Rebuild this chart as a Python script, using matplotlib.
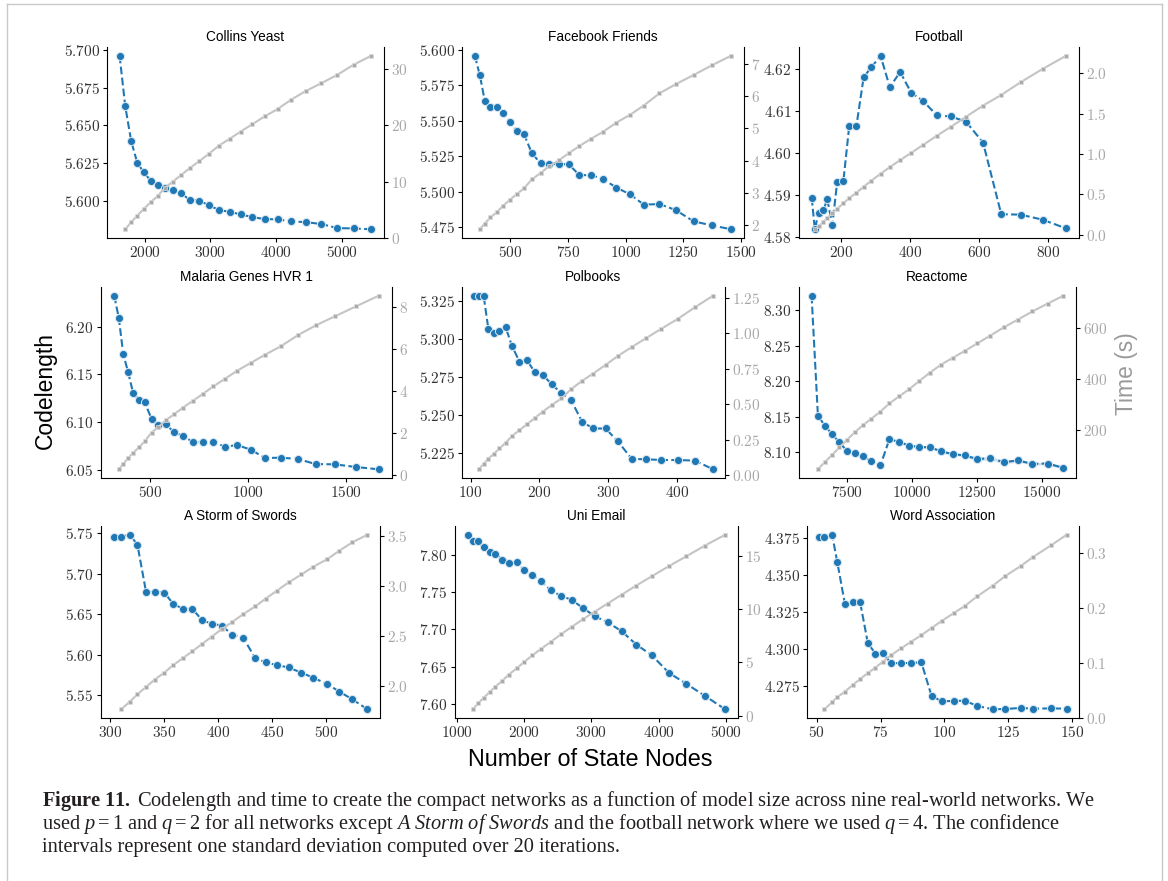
import matplotlib
matplotlib.use("Agg")
import matplotlib.pyplot as plt
import numpy as np
from matplotlib.ticker import MultipleLocator
from matplotlib.lines import Line2D

# ---- data ----
names = ["Collins Yeast", "Facebook Friends", "Football",
         "Malaria Genes HVR 1", "Polbooks", "Reactome",
         "A Storm of Swords", "Uni Email", "Word Association"]

collins_nodes = [1620, 1706, 1797, 1888, 1985, 2091, 2198, 2309, 2431, 2558, 2689, 2826, 2973,
                 3130, 3292, 3460, 3637, 3825, 4022, 4230, 4448, 4686, 4930, 5178, 5447]
collins_cl = [5.6963, 5.6627, 5.6394, 5.6253, 5.6189, 5.6134, 5.6107, 5.6087, 5.6070, 5.6048,
              5.6004, 5.6001, 5.5971, 5.5938, 5.5926, 5.5909, 5.5891, 5.5878, 5.5876, 5.5862,
              5.5858, 5.5845, 5.5818, 5.5816, 5.5810]
collins_time = [1.5, 2.8, 3.9, 5.1, 6.3, 7.4, 8.9, 10.0, 11.2, 12.4, 13.6, 14.9, 16.4, 17.6,
                18.9, 20.2, 21.6, 22.9, 24.6, 26.1, 27.5, 29.0, 30.8, 32.4]

facebook_nodes = [346, 368, 389, 414, 441, 467, 497, 527, 559, 593, 631, 668, 711, 754, 800,
                  851, 904, 960, 1019, 1079, 1147, 1217, 1295, 1374, 1458]
facebook_cl = [5.5960, 5.5821, 5.5643, 5.5596, 5.5596, 5.5558, 5.5495, 5.5431, 5.5408, 5.5274,
               5.5201, 5.5196, 5.5196, 5.5194, 5.5117, 5.5119, 5.5088, 5.5030, 5.4983, 5.4910,
               5.4914, 5.4872, 5.4792, 5.4764, 5.4736]
facebook_time = [1.86, 2.04, 2.23, 2.39, 2.58, 2.77, 2.95, 3.13, 3.41, 3.61, 3.82, 4.01, 4.23,
                 4.45, 4.68, 4.90, 5.18, 5.42, 5.71, 6.09, 6.37, 6.66, 6.96, 7.26]

football_nodes = [114, 123, 134, 148, 159, 174, 188, 206, 223, 244, 265, 287, 314, 341, 371,
                  403, 438, 477, 518, 562, 612, 665, 721, 785, 854]
football_cl = [4.5893, 4.5818, 4.5858, 4.5863, 4.5890, 4.5829, 4.5931, 4.5933, 4.6064, 4.6065,
               4.6181, 4.6204, 4.6232, 4.6157, 4.6193, 4.6144, 4.6124, 4.6090, 4.6087, 4.6075,
               4.6025, 4.5854, 4.5853, 4.5841, 4.5820]
football_time = [0.066, 0.103, 0.157, 0.206, 0.268, 0.322, 0.388, 0.454, 0.519, 0.594, 0.668,
                 0.755, 0.837, 0.924, 1.014, 1.113, 1.225, 1.336, 1.460, 1.600, 1.732, 1.889,
                 2.054, 2.219]

malaria_nodes = [319, 342, 365, 389, 415, 444, 474, 509, 544, 582, 624, 669, 718, 769, 824,
                 883, 946, 1015, 1088, 1168, 1255, 1345, 1444, 1551, 1667]
malaria_cl = [6.2324, 6.2094, 6.1714, 6.1529, 6.1309, 6.1236, 6.1208, 6.1037, 6.0967, 6.0978,
              6.0894, 6.0856, 6.0796, 6.0793, 6.0793, 6.0744, 6.0761, 6.0712, 6.0625, 6.0629,
              6.0615, 6.0562, 6.0559, 6.0531, 6.0507]
malaria_time = [0.28, 0.54, 0.80, 1.06, 1.32, 1.61, 2.03, 2.29, 2.62, 2.90, 3.22, 3.53, 3.86,
                4.23, 4.59, 4.98, 5.35, 5.74, 6.14, 6.67, 7.13, 7.57, 8.04, 8.55]

polbooks_nodes = [105, 112, 119, 126, 134, 142, 151, 160, 171, 182, 193, 205, 218, 232, 246,
                  262, 278, 296, 314, 334, 355, 377, 401, 426, 452]
polbooks_cl = [5.3285, 5.3285, 5.3285, 5.3064, 5.3040, 5.3051, 5.3077, 5.2957, 5.2852, 5.2861,
               5.2785, 5.2765, 5.2702, 5.2645, 5.2599, 5.2457, 5.2413, 5.2413, 5.2328, 5.2213,
               5.2211, 5.2206, 5.2206, 5.2202, 5.2145]
polbooks_time = [0.042, 0.079, 0.117, 0.152, 0.189, 0.229, 0.276, 0.318, 0.360, 0.402, 0.449,
                 0.495, 0.542, 0.607, 0.666, 0.717, 0.778, 0.841, 0.904, 0.967, 1.033, 1.103,
                 1.185, 1.266]

reactome_nodes = [6154, 6397, 6667, 6936, 7218, 7513, 7808, 8115, 8449, 8795, 9141, 9513, 9897,
                  10295, 10692, 11128, 11564, 12038, 12513, 13013, 13526, 14077, 14628, 15218, 15821]
reactome_cl = [8.3205, 8.1510, 8.1371, 8.1252, 8.1138, 8.1014, 8.0981, 8.0938, 8.0876, 8.0810,
               8.1181, 8.1143, 8.1090, 8.1071, 8.1067, 8.1010, 8.0971, 8.0952, 8.0900, 8.0914,
               8.0857, 8.0881, 8.0833, 8.0838, 8.0776]
reactome_std = [0, 0, 0, 0, 0, 0, 0, 0, 0, 0, 0.001, 0.002, 0.002, 0.002, 0.002, 0.002, 0.002,
                0.002, 0.003, 0.002, 0.003, 0.002, 0.002, 0.002, 0.002]
reactome_time = [45, 74, 101, 131, 161, 190, 218, 244, 272, 304, 332, 360, 393, 425, 457, 483,
                 511, 540, 571, 603, 634, 666, 697, 728]

storm_nodes = [303, 310, 318, 325, 333, 341, 350, 358, 367, 376, 385, 394, 403, 413, 423, 434,
               444, 454, 465, 477, 488, 501, 512, 524, 538]
storm_cl = [5.7459, 5.7459, 5.7483, 5.7359, 5.6774, 5.6774, 5.6766, 5.6629, 5.6566, 5.6562,
            5.6425, 5.6380, 5.6359, 5.6243, 5.6210, 5.5956, 5.5902, 5.5869, 5.5840, 5.5774,
            5.5712, 5.5633, 5.5541, 5.5446, 5.5322]
storm_time = [1.766, 1.843, 1.916, 1.990, 2.064, 2.134, 2.208, 2.278, 2.348, 2.422, 2.496,
              2.569, 2.643, 2.720, 2.797, 2.877, 2.954, 3.038, 3.119, 3.196, 3.273, 3.356,
              3.440, 3.517]

email_nodes = [1163, 1237, 1316, 1400, 1489, 1573, 1672, 1770, 1889, 1998, 2121, 2254, 2393,
               2546, 2709, 2877, 3054, 3242, 3454, 3667, 3899, 4151, 4412, 4689, 4990]
email_cl = [7.8270, 7.8189, 7.8180, 7.8104, 7.8041, 7.8018, 7.7932, 7.7887, 7.7905, 7.7797,
            7.7730, 7.7644, 7.7527, 7.7450, 7.7396, 7.7284, 7.7176, 7.7095, 7.6973, 7.6797,
            7.6653, 7.6419, 7.6270, 7.6108, 7.5928]
email_time = [0.62, 1.18, 1.71, 2.24, 2.74, 3.27, 3.86, 4.45, 5.04, 5.66, 6.29, 6.91, 7.63,
              8.34, 9.06, 9.77, 10.52, 11.36, 12.20, 13.07, 14.01, 14.94, 15.94, 16.96]

word_nodes = [51, 53, 56, 58, 61, 64, 67, 70, 73, 76, 79, 83, 87, 91, 95, 99, 104, 108, 113,
              119, 124, 130, 135, 142, 148]
word_cl = [4.3754, 4.3754, 4.3770, 4.3588, 4.3305, 4.3314, 4.3314, 4.3040, 4.2968, 4.2975,
           4.2903, 4.2905, 4.2905, 4.2910, 4.2683, 4.2647, 4.2649, 4.2651, 4.2615, 4.2593,
           4.2595, 4.2602, 4.2597, 4.2599, 4.2597]
word_time = [0.015, 0.028, 0.037, 0.047, 0.059, 0.070, 0.081, 0.091, 0.102, 0.113, 0.126,
             0.138, 0.150, 0.163, 0.176, 0.191, 0.203, 0.221, 0.240, 0.258, 0.276, 0.293,
             0.314, 0.333]

caption_lines = [
    r"$\mathbf{Figure\ 11.}\;$Codelength and time to create the compact networks as a function of model size across nine real-world networks. We",
    r"used $p = 1$ and $q = 2$ for all networks except $\mathit{A\ Storm\ of\ Swords}$ and the football network where we used $q = 4$. The confidence",
    "intervals represent one standard deviation computed over 20 iterations.",
]

# ---- style ----
plt.rcParams["font.family"] = "cmr10"
plt.rcParams["axes.formatter.use_mathtext"] = True
plt.rcParams["mathtext.fontset"] = "custom"
plt.rcParams["mathtext.rm"] = "Liberation Serif"
plt.rcParams["mathtext.it"] = "Liberation Serif:italic"
plt.rcParams["mathtext.bf"] = "Liberation Serif:bold"

W, H = 1168, 881
fig = plt.figure(figsize=(W / 100, H / 100), dpi=100)

# axes boxes in pixels: left, right, top, bottom
boxes = [(107, 384, 47, 238), (462, 744, 47, 238), (799, 1079, 47, 238),
         (101, 392, 287, 478), (462, 725, 287, 478), (799, 1076, 287, 478),
         (101, 380, 526, 718), (455, 738, 526, 718), (807, 1079, 526, 718)]
x_steps = [1000, 250, 200, 500, 100, 2500, 50, 1000, 25]
y_steps = [0.025, 0.025, 0.01, 0.05, 0.025, 0.05, 0.05, 0.05, 0.025]
t_steps = [10, 1, 0.5, 2, 0.25, 200, 0.5, 5, 0.1]

series = [
    (collins_nodes, collins_cl, None, collins_time),
    (facebook_nodes, facebook_cl, None, facebook_time),
    (football_nodes, football_cl, None, football_time),
    (malaria_nodes, malaria_cl, None, malaria_time),
    (polbooks_nodes, polbooks_cl, None, polbooks_time),
    (reactome_nodes, reactome_cl, reactome_std, reactome_time),
    (storm_nodes, storm_cl, None, storm_time),
    (email_nodes, email_cl, None, email_time),
    (word_nodes, word_cl, None, word_time),
]

blue = "#1f77b4"
for i, (name, (nodes, cl, std, tm)) in enumerate(zip(names, series)):
    l, r, t, b = boxes[i]
    ax = fig.add_axes([l / W, 1 - b / H, (r - l) / W, (b - t) / H])
    x = np.array(nodes)
    y = np.array(cl)
    if std is not None:
        s = np.array(std)
        ax.fill_between(x, y - s, y + s, color=blue, alpha=0.2, lw=0)
    ax.plot(x, y, ls="--", color=blue, lw=1.5, marker="o", ms=5.8,
            mec="#dbe8f3", mew=0.7)
    tw = ax.twinx()
    tw.plot(x[1:], tm, color="#c4c4c4", lw=1.5, marker="s", ms=3.5,
            mfc="#ababab", mec="#dddddd", mew=0.5)

    ax.xaxis.set_major_locator(MultipleLocator(x_steps[i]))
    ax.yaxis.set_major_locator(MultipleLocator(y_steps[i]))
    tw.yaxis.set_major_locator(MultipleLocator(t_steps[i]))

    for sp in ("top", "right"):
        ax.spines[sp].set_visible(False)
    for sp in ("top", "left", "bottom"):
        tw.spines[sp].set_visible(False)
    ax.tick_params(direction="out", length=3, width=0.8, pad=2.2, labelsize=11,
                   labelcolor="#333333")
    tw.tick_params(direction="out", length=3, width=0.8, pad=2.2, labelsize=11,
                   labelcolor="#a8a8a8")
    ax.set_title(name, family="Liberation Sans", fontsize=9.8, pad=4)

fig.text(45 / W, 1 - 391 / H, "Codelength", rotation=90, ha="center", va="center",
         family="Liberation Sans", fontsize=16.5)
fig.text(1126 / W, 1 - 374 / H, "Time (s)", rotation=90, ha="center", va="center",
         family="Liberation Sans", fontsize=16.5, color="#9a9a9a")
fig.text(590 / W, 1 - 760 / H, "Number of State Nodes", ha="center", va="center",
         family="Liberation Sans", fontsize=16.8)

# caption, sized so the first line spans the page width
renderer = fig.canvas.get_renderer()
caps = []
for k, line in enumerate(caption_lines):
    caps.append(fig.text(42 / W, 1 - (806 + 23 * k) / H, line, ha="left", va="baseline",
                         family="Liberation Serif", fontsize=14, color="#231f20"))
w0 = caps[0].get_window_extent(renderer).width
for c in caps:
    c.set_fontsize(14 * 1056 / w0)

# page frame
frame = "#c8c8c8"
fig.add_artist(Line2D([7 / W, 7 / W], [0, 1 - 4 / H], color=frame, lw=1, transform=fig.transFigure))
fig.add_artist(Line2D([1162 / W, 1162 / W], [0, 1 - 4 / H], color=frame, lw=1, transform=fig.transFigure))
fig.add_artist(Line2D([7 / W, 1162 / W], [1 - 4 / H, 1 - 4 / H], color=frame, lw=1, transform=fig.transFigure))

fig.savefig("out.png", dpi=100, facecolor="white")
